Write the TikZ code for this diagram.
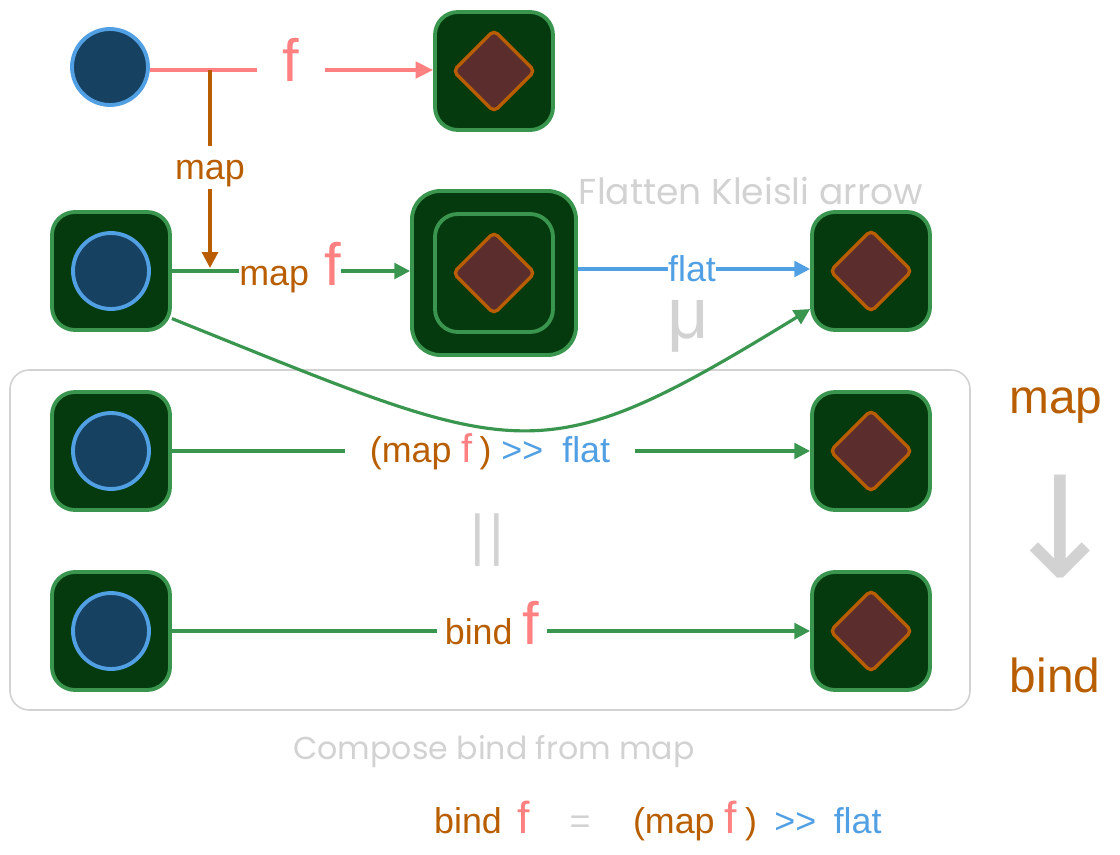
\documentclass[tikz,border=0pt]{standalone}
\usepackage{fontspec}
\setmainfont{Liberation Sans}
\newfontfamily\handfont{Poppins}
\newfontfamily\symfont{DejaVu Sans}
\usepackage{tikz}
\usetikzlibrary{arrows.meta,shapes.geometric,calc}

\definecolor{boxfill}{RGB}{4,58,14}
\definecolor{boxline}{RGB}{58,150,78}
\definecolor{dotfill}{RGB}{23,65,97}
\definecolor{dotline}{RGB}{82,160,228}
\definecolor{gemfill}{RGB}{92,45,45}
\definecolor{mapcol}{RGB}{184,94,0}
\definecolor{fcol}{RGB}{255,128,128}
\definecolor{flatcol}{RGB}{82,160,228}
\definecolor{notegray}{RGB}{210,210,210}
\newcommand\sz[1]{\fontsize{#1}{#1}\selectfont}

\begin{document}
\begin{tikzpicture}[x=0.02cm,y=-0.02cm,
    cell/.style={draw=boxline, fill=boxfill, line width=2.2pt, rounded corners=13pt,
      minimum size=2.36cm, inner sep=0pt},
    bigcell/.style={cell, rounded corners=16pt, minimum size=3.28cm},
    dot/.style={circle, draw=dotline, fill=dotfill, line width=2.2pt, minimum size=1.52cm, inner sep=0pt},
    gem/.style={diamond, aspect=1, draw=mapcol, fill=gemfill, line width=1.9pt, rounded corners=3pt,
      minimum size=1.66cm, inner sep=0pt},
    word/.style={inner sep=0pt, font=\sz{20.4}},
    note/.style={text=notegray, inner sep=0pt},
    tip/.style={-{Triangle[length=9pt,width=9pt]}},
    fline/.style={draw=fcol, line width=1.8pt},
    mline/.style={draw=mapcol, line width=1.8pt},
    gline/.style={draw=boxline, line width=1.8pt},
    bline/.style={draw=flatcol, line width=1.8pt}]
  \useasboundingbox (0,0) rectangle (1120,855);
  \def\frame{
    \draw[notegray, line width=0.9pt, rounded corners=11pt] (10,370) rectangle (970,710);
  }
  \def\cells{
    \node[dot] (c0) at (110,67) {};
    \node[cell] (t0) at (494,71) {};
    \node[gem] (g0) at (t0) {};
    \node[bigcell] (bb) at (494,273) {};
    \node[cell] (bi) at (bb) {};
    \node[gem] (gb) at (bb) {};
    \foreach \i/\y in {1/271,2/451,3/631} {
      \node[cell] (b\i) at (111,\y) {};
      \node[dot] (c\i) at (b\i) {};
      \node[cell] (r\i) at (871,\y) {};
      \node[gem] (g\i) at (r\i) {};
    }
    \coordinate (j0) at (210,70);
    \coordinate (j1) at (210,268);
  }
  \def\labels{
    \node[word, minimum width=1.36cm] (lf) at (291,60) {\sz{34}\textcolor{fcol}{f}};
    \node[word, text=mapcol, anchor=base, text height=0.68cm, text depth=0.18cm] (lm) at (210,180) {map};
    \node[word, minimum width=2cm] (lmf) at (290,268)
      {\textcolor{mapcol}{map}\hspace{0.1cm} \textcolor{fcol}{\sz{34}f}};
    \node[word, text=flatcol, minimum width=0.96cm] (lfl) at (692,269) {flat};
    \node[word, minimum width=5.8cm] (l2) at (490,452)
      {\textcolor{mapcol}{(map {\sz{22.7}\textcolor{fcol}{f}}\hspace{0.14cm})}
       \textcolor{flatcol}{>{}>\hspace{0.38cm}flat}};
    \node[word, minimum width=2.18cm] (l3) at (492,623)
      {\textcolor{mapcol}{bind} \textcolor{fcol}{\sz{34}f}};
  }
  \def\showArrows{
    % Top row
    \draw[fline] (c0.east |- j0) -- (lf.west |- j0);
    \draw[fline, -{Triangle[length=10pt,width=9.5pt]}] (lf.east |- j0) -- (t0.west |- j0);
    \draw[mline] (j0) -- (lm.north);
    \draw[mline, tip] (lm.south) -- (j1);
    % Flatten row
    \draw[gline] (b1) -- (b1 -| lmf.west);
    \draw[gline, tip] (lmf.east |- b1) -- (bb.west |- b1);
    \draw[bline] (bb.east |- lfl) -- (lfl);
    \draw[bline, tip] (lfl) -- (lfl -| r1.west);
    \draw[gline, tip] (b1.-38) .. controls (524,460) and (536,477) .. (r1.212);
    % Compose rows
    \draw[gline] (b2) -- (b2 -| l2.west);
    \draw[gline, tip] (l2.east |- b2) -- (r2);
    \draw[gline] (b3) -- (b3 -| l3.west);
    \draw[gline, tip] (l3.east |- b3) -- (r3);
  }
  \def\notes{
    \node[note, font=\handfont\sz{20.5}] (hflat) at (751,191) {Flatten Kleisli arrow};
    \node[note, font=\handfont\sz{18}] (hcomp) at (494,752) {Compose bind from map};
    \node[note, font=\sz{41}, anchor=base] (mu) at (688,338) {μ};
    \node[note, font=\sz{32}] (same) at (487,540) {|\kern0.08cm|};
    \node[word, text=mapcol, font=\sz{27.2}, anchor=base] (rm) at (1056,413) {map};
    \node[note, font=\symfont\sz{80}] (down) at (1060,527) {↓};
    \node[word, text=mapcol, font=\sz{27.2}, anchor=base] (rb) at (1055,692) {bind};
    % Formula
    \node[word, text=mapcol, anchor=base] (eb) at (468,833) {bind};
    \node[word, anchor=base] (ef) at (524,833) {\sz{25.5}\textcolor{fcol}{f}};
    \node[word, text=notegray, anchor=base] (eq) at (580,833) {=};
    \node[word, anchor=base] (em) at (695,833)
      {\textcolor{mapcol}{(map {\sz{25.5}\textcolor{fcol}{f}}\hspace{0.16cm})}};
    \node[word, text=flatcol, anchor=base] (ez) at (828,833) {>{}>\hspace{0.35cm}flat};
  }
  \frame
  \cells
  \labels
  \showArrows
  \notes
\end{tikzpicture}
\end{document}
